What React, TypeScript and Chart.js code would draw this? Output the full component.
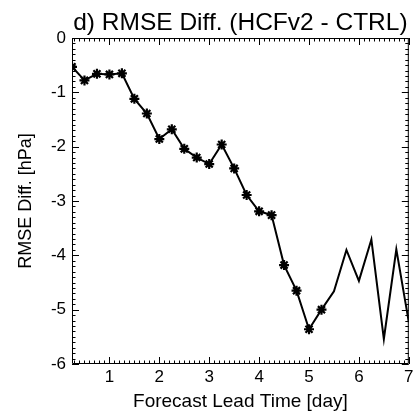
import React, { useEffect, useRef } from "react";
import { Chart, registerables } from "chart.js";

Chart.register(...registerables);

const leadDays = [
  0.25, 0.5, 0.75, 1.0, 1.25, 1.5, 1.75, 2.0, 2.25, 2.5, 2.75, 3.0, 3.25, 3.5,
  3.75, 4.0, 4.25, 4.5, 4.75, 5.0, 5.25, 5.5, 5.75, 6.0, 6.25, 6.5, 6.75, 7.0,
];
const rmseDiff = [
  -0.53, -0.78, -0.66, -0.67, -0.65, -1.12, -1.39, -1.86, -1.68, -2.04, -2.2,
  -2.32, -1.96, -2.4, -2.89, -3.19, -3.26, -4.18, -4.65, -5.36, -5.0, -4.66,
  -3.9, -4.47, -3.71, -5.54, -3.89, -5.23,
];
const markedUntilDay = 5.25;
const xTickDays = [1, 2, 3, 4, 5, 6, 7];
const yTickValues = [0, -1, -2, -3, -4, -5, -6];
const titleText = "d) RMSE Diff. (HCFv2 - CTRL)";
const xAxisTitle = "Forecast Lead Time [day]";
const yAxisTitle = "RMSE Diff. [hPa]";

const FONT = "'Liberation Sans', Arial, Helvetica, sans-serif";

const framePlugin = {
  id: "frameTicks",
  afterDraw(chart: any) {
    const { ctx, chartArea: a } = chart;
    const xs = chart.scales.x;
    const ys = chart.scales.y;
    ctx.save();
    ctx.strokeStyle = "#000";
    ctx.lineWidth = 1;
    ctx.beginPath();
    ctx.rect(a.left + 0.5, a.top + 0.5, a.right - a.left - 1, a.bottom - a.top - 1);
    ctx.stroke();
    const major = 7;
    const minor = 3.5;
    ctx.beginPath();
    for (let i = 3; i <= 70; i++) {
      const v = i / 10;
      const isMajor = i % 10 === 0;
      const px = Math.round(xs.getPixelForValue(v)) + 0.5;
      const len = isMajor ? major : minor;
      ctx.moveTo(px, a.bottom);
      ctx.lineTo(px, a.bottom - len);
      ctx.moveTo(px, a.top);
      ctx.lineTo(px, a.top + len);
    }
    for (let i = 0; i <= 60; i++) {
      const v = -i / 10;
      const isMajor = i % 10 === 0;
      const py = Math.round(ys.getPixelForValue(v)) + 0.5;
      const len = isMajor ? major : minor;
      ctx.moveTo(a.left, py);
      ctx.lineTo(a.left + len, py);
      ctx.moveTo(a.right, py);
      ctx.lineTo(a.right - len, py);
    }
    ctx.stroke();

    ctx.fillStyle = "#000";
    ctx.font = `24.5px ${FONT}`;
    ctx.textAlign = "center";
    ctx.textBaseline = "alphabetic";
    ctx.fillText(titleText, (a.left + a.right) / 2, 30);
    ctx.font = `19px ${FONT}`;
    ctx.fillText(xAxisTitle, (a.left + a.right) / 2, 407);
    ctx.font = `18px ${FONT}`;
    ctx.translate(31, (a.top + a.bottom) / 2);
    ctx.rotate(-Math.PI / 2);
    ctx.fillText(yAxisTitle, 0, 0);
    ctx.restore();
  },
};

export default function App() {
  const ref = useRef<HTMLCanvasElement>(null);

  useEffect(() => {
    if (!ref.current) return;
    const data = leadDays.map((d, i) => ({ x: d, y: rmseDiff[i] }));
    const chart = new Chart(ref.current, {
      type: "line",
      data: {
        datasets: [
          {
            data,
            borderColor: "#000",
            backgroundColor: "#000",
            borderWidth: 2,
            tension: 0,
            pointStyle: "star",
            pointRadius: (c: any) => (leadDays[c.dataIndex] <= markedUntilDay ? 5 : 0),
            pointBorderWidth: 2.2,
            pointBorderColor: "#000",
            pointHoverRadius: 0,
          },
        ],
      },
      options: {
        animation: false,
        responsive: false,
        maintainAspectRatio: false,
        layout: { padding: { top: 38, right: 4, left: 0, bottom: 0 } },
        plugins: {
          legend: { display: false },
          tooltip: { enabled: false },
          title: { display: false },
        },
        scales: {
          x: {
            type: "linear",
            min: 0.25,
            max: 7,
            afterBuildTicks: (s: any) => {
              s.ticks = xTickDays.map((v) => ({ value: v }));
            },
            afterFit: (s: any) => {
              s.height = 54;
              s.paddingLeft = 0;
              s.paddingRight = 0;
            },
            grid: { display: false, drawTicks: false },
            border: { display: false },
            ticks: {
              color: "#000",
              font: { family: FONT, size: 17 },
              padding: 3,
              maxRotation: 0,
              autoSkip: false,
            },
          },
          y: {
            type: "linear",
            min: -6,
            max: 0,
            afterBuildTicks: (s: any) => {
              s.ticks = yTickValues.map((v) => ({ value: v }));
            },
            afterFit: (s: any) => {
              s.width = 72;
              s.paddingTop = 0;
              s.paddingBottom = 0;
            },
            grid: { display: false, drawTicks: false },
            border: { display: false },
            ticks: {
              color: "#000",
              font: { family: FONT, size: 17 },
              padding: 6,
              autoSkip: false,
            },
          },
        },
      },
      plugins: [framePlugin],
    } as any);
    return () => chart.destroy();
  }, []);

  return (
    <div style={{ position: "fixed", left: 0, top: 0, width: 416, height: 418, background: "#fff" }}>
      <canvas ref={ref} width={416} height={418} style={{ display: "block", width: 416, height: 418 }} />
    </div>
  );
}
